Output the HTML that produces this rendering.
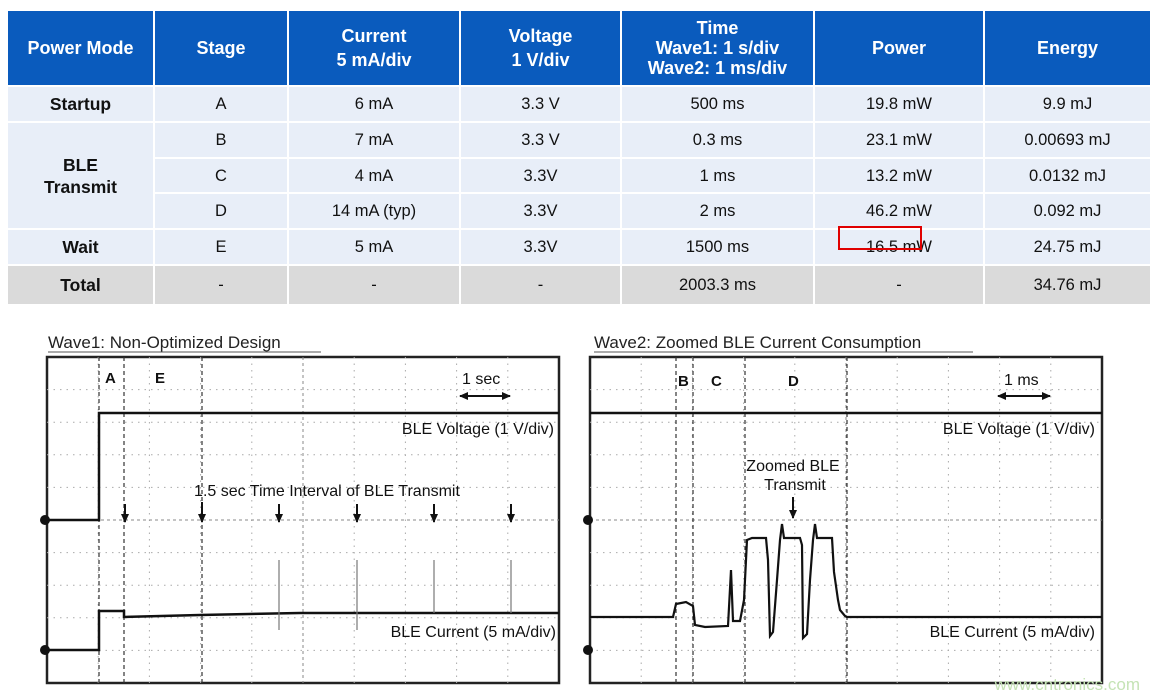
<!DOCTYPE html>
<html><head><meta charset="utf-8"><style>
body{margin:0;width:1160px;height:697px;background:#fff;position:relative;overflow:hidden;font-family:"Liberation Sans",Arial,sans-serif}
.c{position:absolute;display:flex;align-items:center;justify-content:center;text-align:center;font-size:16.5px;color:#111;line-height:22px}
.h{background:#0a5bbd;color:#fff;font-weight:bold;font-size:18px}
.b{background:#e8eef8}
.t{background:#dadada}
.bo{font-weight:bold;font-size:17.5px}
</style></head><body>
<div id="tbl"></div>
<script>
var xs=[8,155,289,461,622,815,985,1152];
var rows=[[11,85],[87,121],[123,157],[159,192],[194,228],[230,264],[266,304]];
var data=[
["Power Mode","Stage","Current<br>5 mA/div","Voltage<br>1 V/div","Time<br>Wave1: 1 s/div<br>Wave2: 1 ms/div","Power","Energy"],
["Startup","A","6 mA","3.3 V","500 ms","19.8 mW","9.9 mJ"],
[null,"B","7 mA","3.3 V","0.3 ms","23.1 mW","0.00693 mJ"],
[null,"C","4 mA","3.3V","1 ms","13.2 mW","0.0132 mJ"],
[null,"D","14 mA (typ)","3.3V","2 ms","46.2 mW","0.092 mJ"],
["Wait","E","5 mA","3.3V","1500 ms","16.5 mW","24.75 mJ"],
["Total","-","-","-","2003.3 ms","-","34.76 mJ"]];
var h="";
for(var r=0;r<7;r++)for(var c=0;c<7;c++){
 var v=data[r][c]; var y0=rows[r][0],y1=rows[r][1];
 if(v===null)continue;
 var cls=r==0?"h":(r==6?"t":"b");
 if(c==0&&r>0)cls+=" bo";
 var lh=(r==0&&c==4)?"line-height:20px;":(r==0?"line-height:24px;":"");
 h+='<div class="c '+cls+'" style="left:'+xs[c]+'px;top:'+y0+'px;width:'+(xs[c+1]-xs[c]-2)+'px;height:'+(y1-y0)+'px;'+lh+'">'+v+'</div>';
}
h+='<div class="c b bo" style="left:8px;top:123px;width:145px;height:105px;line-height:22px">BLE<br>Transmit</div>';
h+='<div style="position:absolute;left:838px;top:226px;width:80px;height:20px;border:2px solid #e00000"></div>';
document.getElementById("tbl").innerHTML=h;
</script>
<svg width="1160" height="697" style="position:absolute;left:0;top:0" font-family="Liberation Sans, Arial, sans-serif">
<defs>
<g id="grid">
<rect x="0" y="0" width="512" height="326" fill="#fff" stroke="#222" stroke-width="2.5"/>
<g stroke="#aaa" stroke-width="1" stroke-dasharray="1.5,5">
<line x1="51.2" y1="0" x2="51.2" y2="326"/><line x1="102.4" y1="0" x2="102.4" y2="326"/><line x1="153.6" y1="0" x2="153.6" y2="326"/><line x1="204.8" y1="0" x2="204.8" y2="326"/><line x1="307.2" y1="0" x2="307.2" y2="326"/><line x1="358.4" y1="0" x2="358.4" y2="326"/><line x1="409.6" y1="0" x2="409.6" y2="326"/><line x1="460.8" y1="0" x2="460.8" y2="326"/>
<line x1="0" y1="32.6" x2="512" y2="32.6"/><line x1="0" y1="65.2" x2="512" y2="65.2"/><line x1="0" y1="97.8" x2="512" y2="97.8"/><line x1="0" y1="130.4" x2="512" y2="130.4"/><line x1="0" y1="195.6" x2="512" y2="195.6"/><line x1="0" y1="228.2" x2="512" y2="228.2"/><line x1="0" y1="260.8" x2="512" y2="260.8"/><line x1="0" y1="293.4" x2="512" y2="293.4"/>
</g>
<g stroke="#888" stroke-width="1">
<line x1="256" y1="0" x2="256" y2="326" stroke-dasharray="3,3"/>
<line x1="0" y1="163" x2="512" y2="163" stroke-dasharray="3,3"/>
</g>
</g>
<marker id="ah" markerUnits="userSpaceOnUse" markerWidth="9" markerHeight="8" refX="8" refY="4" orient="auto-start-reverse"><path d="M0,0 L9,4 L0,8 Z" fill="#111"/></marker>
</defs>
<text x="48" y="348" font-size="17" fill="#222">Wave1: Non-Optimized Design</text>
<line x1="48" y1="352" x2="321" y2="352" stroke="#555" stroke-width="1"/>
<g transform="translate(47,357)"><use href="#grid"/></g>
<g stroke="#333" stroke-width="1.2" stroke-dasharray="4,3">
<line x1="99" y1="357" x2="99" y2="683"/><line x1="124" y1="357" x2="124" y2="683"/><line x1="202" y1="357" x2="202" y2="683"/>
</g>
<g font-size="15" font-weight="bold" fill="#111"><text x="105" y="383">A</text><text x="155" y="383">E</text></g>
<text x="462" y="384" font-size="16" fill="#111">1 sec</text>
<line x1="460" y1="396" x2="510" y2="396" stroke="#111" stroke-width="2" marker-end="url(#ah)" marker-start="url(#ah)"/>
<path d="M47,520 H99 V413 H559" fill="none" stroke="#111" stroke-width="2.5"/>
<path d="M47,650 H99 V611 H124 V617 L200,615 L300,613 L559,613" fill="none" stroke="#111" stroke-width="2.5"/>
<g stroke="#777" stroke-width="1.2"><line x1="279" y1="560" x2="279" y2="630"/><line x1="357" y1="560" x2="357" y2="630"/><line x1="434" y1="560" x2="434" y2="613"/><line x1="511" y1="560" x2="511" y2="613"/></g>
<circle cx="45" cy="520" r="5" fill="#111"/><circle cx="45" cy="650" r="5" fill="#111"/>
<text x="554" y="434" font-size="16" fill="#111" text-anchor="end">BLE Voltage (1 V/div)</text>
<text x="327" y="496" font-size="16" fill="#111" text-anchor="middle">1.5 sec Time Interval of BLE Transmit</text>
<text x="556" y="637" font-size="16" fill="#111" text-anchor="end">BLE Current (5 mA/div)</text>
<g stroke="#111" stroke-width="2">
<line x1="125" y1="504" x2="125" y2="522" marker-end="url(#ah)"/><line x1="202" y1="502" x2="202" y2="522" marker-end="url(#ah)"/><line x1="279" y1="504" x2="279" y2="522" marker-end="url(#ah)"/><line x1="357" y1="504" x2="357" y2="522" marker-end="url(#ah)"/><line x1="434" y1="504" x2="434" y2="522" marker-end="url(#ah)"/><line x1="511" y1="504" x2="511" y2="522" marker-end="url(#ah)"/>
</g>
<text x="594" y="348" font-size="17" fill="#222">Wave2: Zoomed BLE Current Consumption</text>
<line x1="594" y1="352" x2="973" y2="352" stroke="#555" stroke-width="1"/>
<g transform="translate(590,357)"><use href="#grid"/></g>
<g stroke="#333" stroke-width="1.2" stroke-dasharray="4,3">
<line x1="676" y1="357" x2="676" y2="683"/><line x1="693" y1="357" x2="693" y2="683"/><line x1="745" y1="357" x2="745" y2="683"/><line x1="847" y1="357" x2="847" y2="683"/>
</g>
<g font-size="15" font-weight="bold" fill="#111"><text x="678" y="386">B</text><text x="711" y="386">C</text><text x="788" y="386">D</text></g>
<text x="1004" y="385" font-size="16" fill="#111">1 ms</text>
<line x1="998" y1="396" x2="1050" y2="396" stroke="#111" stroke-width="2" marker-end="url(#ah)" marker-start="url(#ah)"/>
<path d="M590,413 H1102" stroke="#111" stroke-width="2.5"/>
<path d="M590,617 H673 L676,604 L686,602 L693,606 L695,625 L705,627 L728,626 L731,570 L733,621 L740,621 L744,600 L747,540 L752,538 L766,538 L768,560 L770,636 L773,632 L777,580 L780,540 L782,524 L784,538 L800,538 L802,545 L803,638 L807,634 L810,580 L813,540 L815,524 L817,538 L832,538 L834,572 L838,600 L840,610 L845,616 L847,617 H1102" fill="none" stroke="#111" stroke-width="2.2"/>
<circle cx="588" cy="520" r="5" fill="#111"/><circle cx="588" cy="650" r="5" fill="#111"/>
<text x="1095" y="434" font-size="16" fill="#111" text-anchor="end">BLE Voltage (1 V/div)</text>
<text x="793" y="471" font-size="16" fill="#111" text-anchor="middle">Zoomed BLE</text>
<text x="795" y="490" font-size="16" fill="#111" text-anchor="middle">Transmit</text>
<line x1="793" y1="497" x2="793" y2="518" stroke="#111" stroke-width="2" marker-end="url(#ah)"/>
<text x="1095" y="637" font-size="16" fill="#111" text-anchor="end">BLE Current (5 mA/div)</text>
<text x="1140" y="690" font-size="17" fill="#c5e3b5" text-anchor="end">www.cntronics.com</text>
</svg>
</body></html>
